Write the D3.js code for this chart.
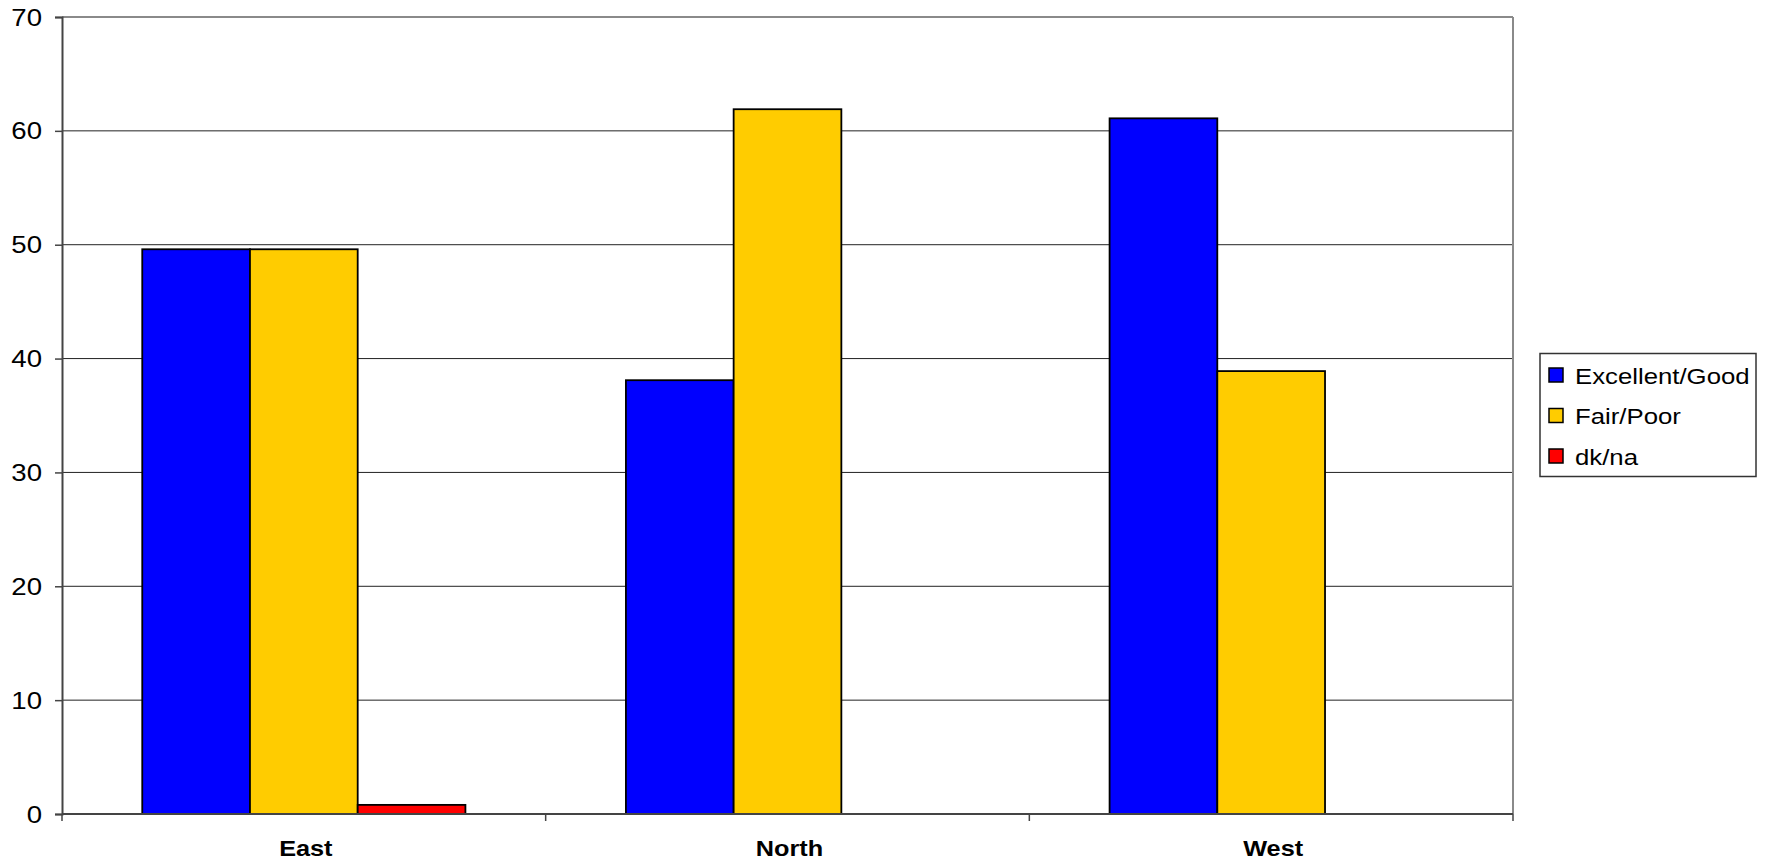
<!DOCTYPE html>
<html>
<head>
<meta charset="utf-8">
<script src="https://cdn.jsdelivr.net/npm/d3@7"></script>
<style>
  body { margin: 0; background: #fff; }
  text { font-family: "Liberation Sans", Arial, sans-serif; fill: #000; }
</style>
</head>
<body>
<script>
// Data
const regions = ["East", "North", "West"];
const seriesNames = ["Excellent/Good", "Fair/Poor", "dk/na"];
const excellentGood = [49.6, 38.1, 61.1];
const fairPoor = [49.6, 61.9, 38.9];
const dkNa = [0.8, 0, 0];
const yTicks = [0, 10, 20, 30, 40, 50, 60, 70];
const colors = ["#0000ff", "#ffcc00", "#ff0000"];

const seriesValues = [excellentGood, fairPoor, dkNa];

// Canvas
const width = 1766, height = 861;
const plotLeft = 62, plotRight = 1513, plotTop = 17, plotBottom = 814;

let svg = d3.select("body").append("svg")
    .attr("width", width)
    .attr("height", height);

// Scales
const x = d3.scaleBand().domain(regions).range([plotLeft, plotRight]).paddingInner(0).paddingOuter(0);
const y = d3.scaleLinear().domain([0, 70]).range([plotBottom, plotTop]);
// gap width ~150% -> the three bars sit in the middle of each category
const inner = d3.scaleBand().domain(seriesNames)
    .range([0, x.bandwidth()]).paddingInner(0).paddingOuter(0.745);

// Gridlines
svg.append("g").selectAll("line")
    .data(yTicks.filter(t => t > 0 && t < 70))
    .join("line")
    .attr("x1", plotLeft).attr("x2", plotRight)
    .attr("y1", d => y(d)).attr("y2", d => y(d))
    .attr("stroke", "#222").attr("stroke-width", 1);

// Plot border (top and right grey)
svg.append("line").attr("x1", plotLeft).attr("x2", plotRight).attr("y1", plotTop).attr("y2", plotTop)
    .attr("stroke", "#8a8a8a").attr("stroke-width", 2);
svg.append("line").attr("x1", plotRight).attr("x2", plotRight).attr("y1", plotTop).attr("y2", plotBottom)
    .attr("stroke", "#8a8a8a").attr("stroke-width", 2);

// Bars
const groups = svg.append("g").selectAll("g")
    .data(seriesNames)
    .join("g")
    .attr("fill", (d, i) => colors[i]);

groups.each(function (name, si) {
    d3.select(this).selectAll("rect")
        .data(regions.map((r, ri) => ({ r, v: seriesValues[si][ri] })).filter(d => d.v > 0))
        .join("rect")
        .attr("x", d => x(d.r) + inner(name))
        .attr("y", d => y(d.v))
        .attr("width", inner.bandwidth())
        .attr("height", d => y(0) - y(d.v))
        .attr("stroke", "#000")
        .attr("stroke-width", 1.8);
});

// Y axis
const yAxis = svg.append("g")
    .attr("transform", `translate(${plotLeft},0)`)
    .call(d3.axisLeft(y).tickValues(yTicks).tickSize(7).tickFormat(""));
yAxis.select(".domain").attr("stroke", "#444").attr("stroke-width", 2);
yAxis.selectAll(".tick line").attr("stroke", "#444").attr("stroke-width", 1.5);

svg.append("g").selectAll("text")
    .data(yTicks)
    .join("text")
    .attr("transform", d => `translate(42,${y(d) + 8.5}) scale(1.2,1)`)
    .attr("text-anchor", "end")
    .attr("font-size", 23)
    .text(d => d);

// X axis
svg.append("line").attr("x1", plotLeft).attr("x2", plotRight).attr("y1", plotBottom).attr("y2", plotBottom)
    .attr("stroke", "#444").attr("stroke-width", 2);
const xBounds = regions.map(r => x(r)).concat([plotRight]);
svg.append("g").selectAll("line")
    .data(xBounds)
    .join("line")
    .attr("x1", d => d).attr("x2", d => d)
    .attr("y1", plotBottom).attr("y2", plotBottom + 7)
    .attr("stroke", "#444").attr("stroke-width", 1.5);

svg.append("g").selectAll("text")
    .data(regions)
    .join("text")
    .attr("transform", d => `translate(${x(d) + x.bandwidth() / 2 + 2},856) scale(1.15,1)`)
    .attr("text-anchor", "middle")
    .attr("font-size", 22)
    .attr("font-weight", "bold")
    .text(d => d);

// Legend
const legend = svg.append("g");
legend.append("rect")
    .attr("x", 1540).attr("y", 353.5)
    .attr("width", 216).attr("height", 123)
    .attr("fill", "#fff").attr("stroke", "#333").attr("stroke-width", 1.5);

const rowY = d3.scalePoint().domain(seriesNames).range([375, 456]);
const items = legend.selectAll("g.item")
    .data(seriesNames)
    .join("g")
    .attr("class", "item");
items.append("rect")
    .attr("x", 1549).attr("y", d => rowY(d) - 7)
    .attr("width", 14).attr("height", 14)
    .attr("fill", (d, i) => colors[i])
    .attr("stroke", "#000").attr("stroke-width", 1.5);
items.append("text")
    .attr("transform", d => `translate(1575,${rowY(d) + 8.5}) scale(1.12,1)`)
    .attr("font-size", 23)
    .text(d => d);
</script>
</body>
</html>
